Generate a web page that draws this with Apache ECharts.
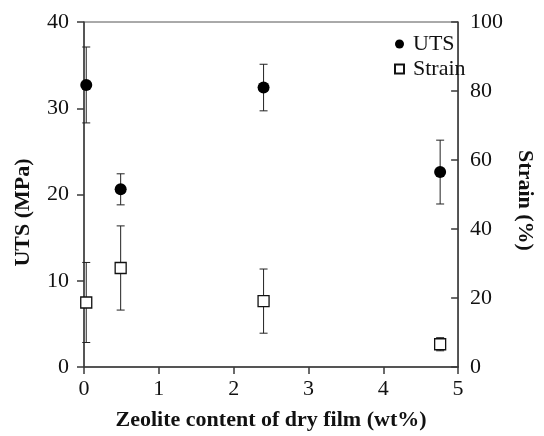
<!DOCTYPE html>
<html>
<head>
<meta charset="utf-8">
<script src="https://cdn.jsdelivr.net/npm/echarts@6/dist/echarts.min.js"></script>
<style>
  html, body { margin: 0; padding: 0; background: #fff; }
  #chart { width: 544px; height: 436px; }
</style>
</head>
<body>
<div id="chart"></div>
<script>
// Zeolite loading of the dry film (wt%)
const zeolite = [0.03, 0.49, 2.40, 4.76];
// Ultimate tensile strength (MPa) and its standard deviation
const utsMean = [32.7, 20.6, 32.4, 22.6];
const utsErr = [4.4, 1.8, 2.7, 3.7];
// Strain at break (%) and its standard deviation
const strainMean = [18.7, 28.7, 19.1, 6.6];
const strainErr = [11.6, 12.2, 9.3, 1.9];

const FONT = '"Liberation Serif", "Times New Roman", serif';
const AXIS_COLOR = '#3a3a3a';
const TEXT_COLOR = '#111';

const points = (ys) => zeolite.map((x, i) => [x, ys[i]]);
const bars = (ys, es) => zeolite.map((x, i) => [x, ys[i] - es[i], ys[i] + es[i]]);

// Vertical whisker with a short cap at each end
function renderErrorBar(params, api) {
  const x = api.value(0);
  const lo = api.coord([x, api.value(1)]);
  const hi = api.coord([x, api.value(2)]);
  const hw = 4;
  const style = { stroke: '#222', lineWidth: 1 };
  return {
    type: 'group',
    children: [
      { type: 'line', shape: { x1: lo[0], y1: lo[1], x2: hi[0], y2: hi[1] }, style },
      { type: 'line', shape: { x1: lo[0] - hw, y1: lo[1], x2: lo[0] + hw, y2: lo[1] }, style },
      { type: 'line', shape: { x1: hi[0] - hw, y1: hi[1], x2: hi[0] + hw, y2: hi[1] }, style }
    ]
  };
}

const chart = echarts.init(document.getElementById('chart'), null, { renderer: 'canvas' });

chart.setOption({
  backgroundColor: '#fff',
  animation: false,
  textStyle: { fontFamily: FONT },
  grid: {
    left: 84, right: 66, top: 22, bottom: 64,
    show: true, borderColor: '#555', borderWidth: 1, backgroundColor: 'transparent'
  },
  legend: {
    data: ['UTS', 'Strain'],
    orient: 'vertical',
    left: 389, top: 28,
    itemGap: 3,
    itemWidth: 9, itemHeight: 9,
    textStyle: { fontFamily: FONT, fontSize: 22, color: TEXT_COLOR, padding: [0, 0, 0, 4] }
  },
  xAxis: {
    type: 'value',
    min: 0, max: 5, interval: 1,
    name: 'Zeolite content of dry film (wt%)',
    nameLocation: 'middle',
    nameGap: 42,
    nameTextStyle: { fontFamily: FONT, fontSize: 22, fontWeight: 'bold', color: TEXT_COLOR },
    axisLine: { show: true, onZero: false, lineStyle: { color: AXIS_COLOR, width: 1.5 } },
    axisTick: { show: true, inside: false, length: 7, lineStyle: { color: AXIS_COLOR, width: 1.5 } },
    axisLabel: { margin: 11, fontFamily: FONT, fontSize: 22, color: TEXT_COLOR },
    splitLine: { show: false }
  },
  yAxis: [
    {
      type: 'value',
      position: 'left',
      min: 0, max: 40, interval: 10,
      name: 'UTS (MPa)',
      nameLocation: 'middle',
      nameRotate: 90,
      nameGap: 50,
      nameTextStyle: { fontFamily: FONT, fontSize: 22, fontWeight: 'bold', color: TEXT_COLOR, padding: [0, 36, 0, 0] },
      axisLine: { show: true, onZero: false, lineStyle: { color: AXIS_COLOR, width: 1.5 } },
      axisTick: { show: true, inside: false, length: 7, lineStyle: { color: AXIS_COLOR, width: 1.5 } },
      axisLabel: { margin: 15, fontFamily: FONT, fontSize: 22, color: TEXT_COLOR },
      splitLine: { show: false }
    },
    {
      type: 'value',
      position: 'right',
      min: 0, max: 100, interval: 20,
      name: 'Strain (%)',
      nameLocation: 'middle',
      nameRotate: -90,
      nameGap: 52,
      nameTextStyle: { fontFamily: FONT, fontSize: 22, fontWeight: 'bold', color: TEXT_COLOR, padding: [0, 0, 0, 12] },
      axisLine: { show: true, onZero: false, lineStyle: { color: AXIS_COLOR, width: 1.5 } },
      axisTick: { show: true, inside: true, length: 7, lineStyle: { color: AXIS_COLOR, width: 1.5 } },
      axisLabel: { margin: 12, fontFamily: FONT, fontSize: 22, color: TEXT_COLOR },
      splitLine: { show: false }
    }
  ],
  series: [
    {
      name: 'UTS error',
      type: 'custom',
      yAxisIndex: 0,
      renderItem: renderErrorBar,
      encode: { x: 0, y: [1, 2] },
      data: bars(utsMean, utsErr),
      z: 2
    },
    {
      name: 'Strain error',
      type: 'custom',
      yAxisIndex: 1,
      renderItem: renderErrorBar,
      encode: { x: 0, y: [1, 2] },
      data: bars(strainMean, strainErr),
      z: 2
    },
    {
      name: 'UTS',
      type: 'scatter',
      yAxisIndex: 0,
      symbol: 'circle',
      symbolSize: 12,
      itemStyle: { color: '#000', opacity: 1 },
      data: points(utsMean),
      z: 3
    },
    {
      name: 'Strain',
      type: 'scatter',
      yAxisIndex: 1,
      symbol: 'rect',
      symbolSize: 11,
      itemStyle: { color: '#fff', borderColor: '#111', borderWidth: 1.3, opacity: 1 },
      data: points(strainMean),
      z: 3
    }
  ]
});
</script>
</body>
</html>
